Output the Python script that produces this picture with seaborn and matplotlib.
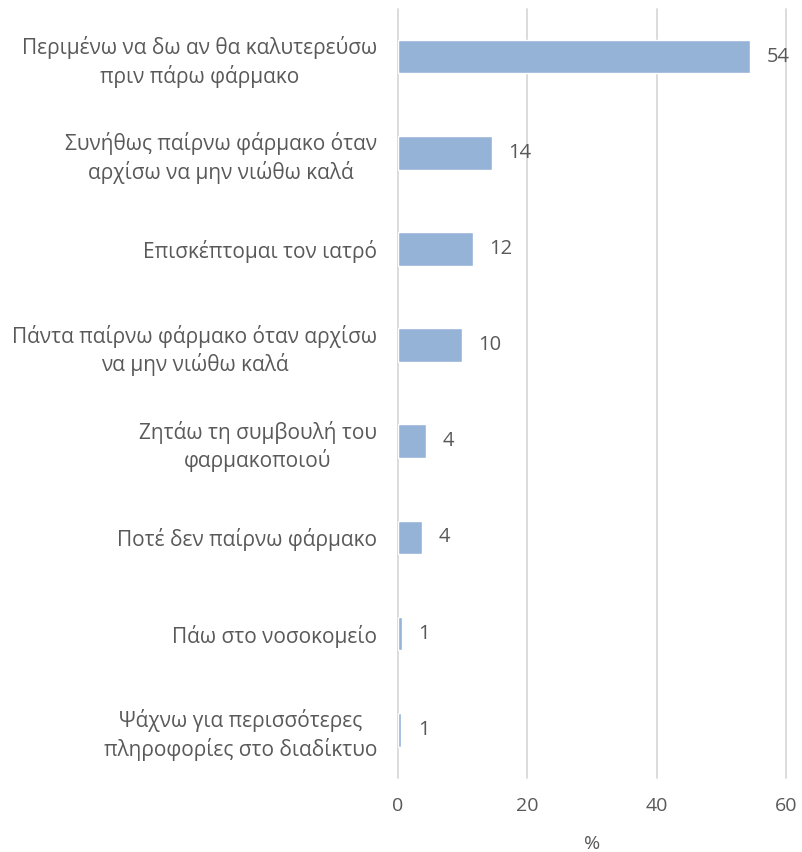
import matplotlib
matplotlib.use('Agg')
import matplotlib.pyplot as plt
import seaborn as sns
import pandas as pd

# responses (Greek) and their shares in %
categories = [
    'Περιμένω να δω αν θα καλυτερεύσω\nπριν πάρω φάρμακο',
    'Συνήθως παίρνω φάρμακο όταν\nαρχίσω να μην νιώθω καλά',
    'Επισκέπτομαι τον ιατρό',
    'Πάντα παίρνω φάρμακο όταν αρχίσω\nνα μην νιώθω καλά',
    'Ζητάω τη συμβουλή του\nφαρμακοποιού',
    'Ποτέ δεν παίρνω φάρμακο',
    'Πάω στο νοσοκομείο',
    'Ψάχνω για περισσότερες\nπληροφορίες στο διαδίκτυο',
]
values = [54.4, 14.5, 11.6, 9.9, 4.3, 3.7, 0.6, 0.5]
value_labels = ['54', '14', '12', '10', '4', '4', '1', '1']
xticks = [0, 20, 40, 60]

df = pd.DataFrame({'answer': categories, 'pct': values})

sns.set_theme(style='white')
plt.rcParams['font.family'] = ['Open Sans', 'DejaVu Sans']
grey = '#595959'

fig = plt.figure(figsize=(8.02, 8.52), dpi=100)
ax = fig.add_axes([0.496, 0.087, 0.484, 0.903])
sns.barplot(data=df, x='pct', y='answer', color='#95b3d7', saturation=1,
            width=0.35, ax=ax)

for i, (v, lab) in enumerate(zip(values, value_labels)):
    ax.text(v + 2.6, i, lab, va='center', ha='left', fontsize=14.5, color=grey)

ax.set_xlim(0, 60)
ax.set_ylim(7.5, -0.5)
ax.set_xticks(xticks)
ax.set_xticklabels([str(t) for t in xticks], fontsize=14, color=grey)
ax.set_yticks(range(len(categories)))
ax.set_yticklabels(categories, fontsize=15, color=grey, linespacing=1.3,
                   ha='right', multialignment='center')
ax.tick_params(axis='y', length=0, pad=15)
ax.tick_params(axis='x', length=0, pad=14)
ax.xaxis.grid(True, color='#d9d9d9', linewidth=1.3)
for gl in ax.get_xgridlines():
    gl.set_clip_on(False)
ax.set_axisbelow(True)
for s in ax.spines.values():
    s.set_visible(False)
ax.set_xlabel('%', fontsize=14, color=grey, labelpad=14)
ax.set_ylabel('')

plt.savefig('out.png', dpi=100)
